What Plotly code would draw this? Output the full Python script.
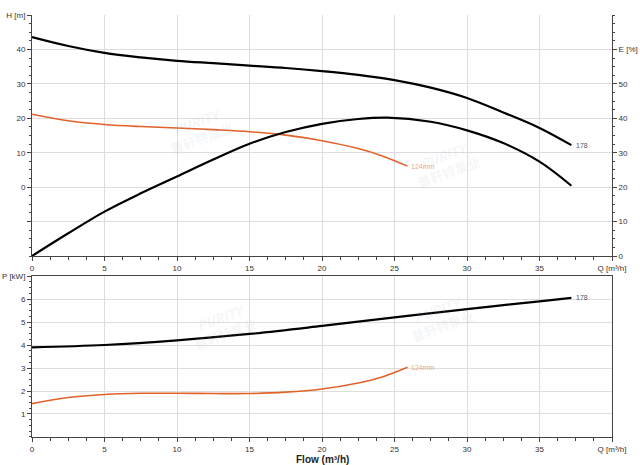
import plotly.graph_objects as go

# ---------------- data ----------------
q_h178 = [0, 2.5, 5, 7.5, 10, 12.5, 15, 17.5, 20, 22.5, 25, 27.5, 30, 32.5, 35, 37.2]
h_178 = [43.6, 41.0, 39.0, 37.7, 36.7, 36.0, 35.3, 34.6, 33.7, 32.6, 31.1, 28.9, 25.9, 21.7, 17.2, 12.2]

q_e178 = [0, 2.5, 5, 7.5, 10, 12.5, 15, 17.5, 20, 22.5, 24.5, 27.5, 30, 32.5, 35, 37.2]
e_178 = [0, 6.6, 12.9, 18.2, 23.1, 28.0, 32.6, 36.0, 38.4, 39.8, 40.2, 39.0, 36.5, 32.8, 27.4, 20.4]

q_h124 = [0, 2.5, 5, 7.5, 10, 12.5, 15, 17.5, 20, 22.5, 24.2, 25.9]
h_124 = [21.2, 19.3, 18.2, 17.6, 17.2, 16.7, 16.1, 15.1, 13.5, 11.2, 9.0, 6.1]

q_p178 = [0, 5, 10, 15, 20, 25, 30, 35, 37.2]
p_178 = [3.9, 4.0, 4.2, 4.48, 4.83, 5.2, 5.56, 5.9, 6.05]

q_p124 = [0, 2.5, 5, 7.5, 10, 12.5, 15, 17.5, 20, 22.5, 24.2, 25.9]
p_124 = [1.45, 1.72, 1.85, 1.9, 1.9, 1.89, 1.89, 1.95, 2.09, 2.35, 2.62, 3.03]

q_ticks = [0, 5, 10, 15, 20, 25, 30, 35, 40]
q_ticktext = ["0", "5", "10", "15", "20", "25", "30", "35", "Q [m³/h]"]
qls_max = 40 / 3.6
qls_ticks = [0, 2, 4, 6, 8, 10, qls_max]
qls_ticktext = ["0", "2", "4", "6", "8", "10", "Q [L/s]"]
h_ticks = [-10, 0, 10, 20, 30, 40, 50]
h_ticktext = ["", "0", "10", "20", "30", "40", "H [m]"]
e_ticks = [0, 10, 20, 30, 40, 50, 60]
e_ticktext = ["0", "10", "20", "30", "40", "50", "E [%]"]
p_ticks = [1, 2, 3, 4, 5, 6, 7]
p_ticktext = ["1", "2", "3", "4", "5", "6", "P [kW]"]

label_178 = "178"
label_124 = "124mm"

# ---------------- style ----------------
BLACK = "#000000"
ORANGE = "#e2622b"
AXIS = "#444444"
GRID = "#dddddd"
FONT = "Liberation Sans, Arial, sans-serif"
TICKFONT = dict(family=FONT, size=8, color="#333333")

fig = go.Figure()

fig.add_trace(go.Scatter(x=q_h178, y=h_178, mode="lines", line=dict(color=BLACK, width=2.2, shape="spline"),
                         xaxis="x", yaxis="y", showlegend=False, hoverinfo="skip"))
fig.add_trace(go.Scatter(x=q_h124, y=h_124, mode="lines", line=dict(color=ORANGE, width=1.6, shape="spline"),
                         xaxis="x", yaxis="y", showlegend=False, hoverinfo="skip"))
fig.add_trace(go.Scatter(x=q_e178, y=e_178, mode="lines", line=dict(color=BLACK, width=2.2, shape="spline"),
                         xaxis="x", yaxis="y2", showlegend=False, hoverinfo="skip"))
fig.add_trace(go.Scatter(x=q_p178, y=p_178, mode="lines", line=dict(color=BLACK, width=2.2, shape="spline"),
                         xaxis="x3", yaxis="y3", showlegend=False, hoverinfo="skip"))
fig.add_trace(go.Scatter(x=q_p124, y=p_124, mode="lines", line=dict(color=ORANGE, width=1.6, shape="spline"),
                         xaxis="x3", yaxis="y3", showlegend=False, hoverinfo="skip"))

top_dom = [0.4289, 1.0]
bot_dom = [0.0, 0.3815]

common = dict(showline=True, linecolor=AXIS, linewidth=1, tickfont=TICKFONT, ticks="outside",
              tickcolor=AXIS, ticklen=4, tickwidth=1, zeroline=False, tickmode="array",
              automargin=False)

fig.update_layout(
    width=640, height=465,
    margin=dict(l=32, r=28, t=15, b=28),
    paper_bgcolor="white", plot_bgcolor="white",
    font=dict(family=FONT, size=8, color="#333333"),
    xaxis=dict(domain=[0, 1], anchor="y", range=[0, 40], tickvals=q_ticks, ticktext=q_ticktext,
               showgrid=True, gridcolor=GRID, gridwidth=1,
               minor=dict(dtick=1.25, tick0=0, ticks="outside", ticklen=3, tickcolor=AXIS, showgrid=False),
               **common),
    xaxis2=dict(overlaying="x", side="top", anchor="y", range=[0, qls_max], tickvals=qls_ticks,
                ticktext=qls_ticktext, showgrid=False,
                minor=dict(dtick=2 / 3, tick0=0, ticks="outside", ticklen=3, tickcolor=AXIS, showgrid=False),
                **common),
    yaxis=dict(domain=top_dom, anchor="x", range=[-20, 50], tickvals=h_ticks, ticktext=h_ticktext,
               showgrid=True, gridcolor=GRID, gridwidth=1,
               minor=dict(dtick=2.5, tick0=0, ticks="outside", ticklen=2, tickcolor=AXIS, showgrid=False),
               **common),
    yaxis2=dict(overlaying="y", side="right", anchor="x", range=[0, 70], tickvals=e_ticks,
                ticktext=e_ticktext, showgrid=False,
                minor=dict(dtick=2.5, tick0=0, ticks="outside", ticklen=2, tickcolor=AXIS, showgrid=False),
                **common),
    xaxis3=dict(domain=[0, 1], anchor="y3", range=[0, 40], tickvals=q_ticks, ticktext=q_ticktext,
                showgrid=True, gridcolor=GRID, gridwidth=1, mirror=True,
                minor=dict(dtick=1.25, tick0=0, ticks="outside", ticklen=3, tickcolor=AXIS, showgrid=False),
                **common),
    yaxis3=dict(domain=bot_dom, anchor="x3", range=[0, 7], tickvals=p_ticks, ticktext=p_ticktext,
                showgrid=True, gridcolor=GRID, gridwidth=1, mirror=True,
                minor=dict(dtick=0.25, tick0=0, ticks="outside", ticklen=2, tickcolor=AXIS, showgrid=False),
                **common),
)

ann = []
ann.append(dict(x=q_h178[-1], y=h_178[-1], xref="x", yref="y", text=label_178, showarrow=False,
                xanchor="left", xshift=3, font=dict(family=FONT, size=7, color="#555555")))
ann.append(dict(x=q_h124[-1], y=h_124[-1], xref="x", yref="y", text=label_124, showarrow=False,
                xanchor="left", xshift=1, font=dict(family=FONT, size=7, color="#f0a57c")))
ann.append(dict(x=q_p178[-1], y=p_178[-1], xref="x3", yref="y3", text=label_178, showarrow=False,
                xanchor="left", xshift=3, font=dict(family=FONT, size=7, color="#555555")))
ann.append(dict(x=q_p124[-1], y=p_124[-1], xref="x3", yref="y3", text=label_124, showarrow=False,
                xanchor="left", xshift=1, font=dict(family=FONT, size=7, color="#f0a57c")))
ann.append(dict(x=0.5, y=-0.054, xref="paper", yref="paper", text="<b>Flow (m³/h)</b>", showarrow=False,
                xanchor="center", yanchor="middle", font=dict(family=FONT, size=10, color="#222222")))

# faint watermarks
for (wx, wy) in [(0.22, 0.80), (0.78, 0.72), (0.26, 0.19), (0.77, 0.21)]:
    ann.append(dict(x=wx, y=wy, xref="paper", yref="paper",
                    text="<b><i>PURITY</i></b><br><b>普轩特泵业</b>", showarrow=False, textangle=-20,
                    font=dict(family="Noto Sans CJK SC, " + FONT, size=13, color="rgba(170,185,205,0.15)")))

fig.update_layout(annotations=ann)

# remove the browser's default 8px body margin so the figure sits at the page origin
fig.write_html("out.html", config={"displayModeBar": False},
               post_script="document.body.style.margin='0';")
